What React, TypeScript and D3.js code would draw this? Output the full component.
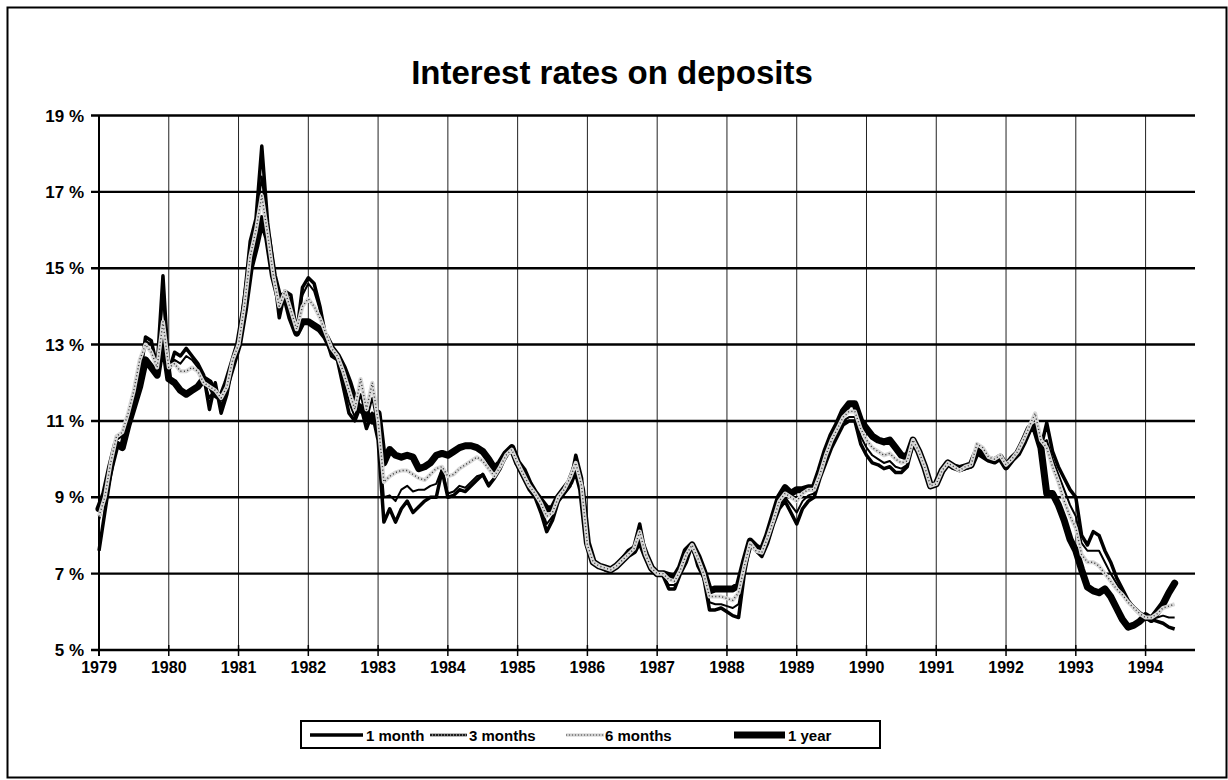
import React from "react";
import * as d3 from "d3";

const START_YEAR = 1979;
const yearLabels = ["1979","1980","1981","1982","1983","1984","1985","1986","1987","1988","1989","1990","1991","1992","1993","1994"];
const yTicks = [5, 7, 9, 11, 13, 15, 17, 19];
const seriesNames = ["1 month", "3 months", "6 months", "1 year"];

// monthly values, Jan 1979 onwards
const oneMonth = [
  7.6, 8.6, 9.6, 10.4, 10.3, 11.0, 11.5, 12.1, 13.2, 13.1, 12.4, 14.8,
  12.3, 12.8, 12.7, 12.9, 12.7, 12.5, 12.2, 11.3, 12.0, 11.2, 11.7, 12.5,
  13.0, 14.2, 15.7, 16.3, 18.2, 16.2, 15.0, 13.7, 14.4, 14.3, 13.3, 14.5,
  14.75, 14.6, 14.0, 13.2, 12.7, 12.6, 11.9, 11.2, 11.0, 11.4, 10.8, 11.2,
  10.5, 8.35, 8.7, 8.35, 8.7, 8.9, 8.6, 8.75, 8.9, 9.0, 9.0, 9.7,
  9.0, 9.05, 9.2, 9.15, 9.3, 9.45, 9.6, 9.3, 9.5, 9.75, 10.1, 10.25,
  9.8, 9.5, 9.2, 9.0, 8.6, 8.1, 8.4, 8.9, 9.1, 9.3, 10.1, 9.5,
  7.7, 7.3, 7.2, 7.1, 7.05, 7.2, 7.4, 7.6, 7.7, 8.3, 7.5, 7.1,
  7.0, 6.95, 6.6, 6.6, 7.0, 7.3, 7.75, 7.2, 6.9, 6.05, 6.05, 6.1,
  6.0, 5.9, 5.85, 7.0, 7.8, 7.6, 7.45, 7.8, 8.3, 8.7, 8.9, 8.6,
  8.3, 8.7, 8.9, 9.0, 9.5, 9.9, 10.3, 10.6, 10.9, 11.0, 11.0, 10.4,
  10.1, 9.9, 9.85, 9.75, 9.8, 9.65, 9.65, 9.8, 10.4, 10.2, 9.8, 9.3,
  9.35, 9.7, 9.9, 9.8, 9.7, 9.75, 9.8, 10.2, 10.1, 10.0, 9.95, 10.05,
  9.8, 10.0, 10.2, 10.5, 10.8, 10.9, 10.3, 10.95, 10.2, 9.8, 9.5, 9.2,
  9.0, 8.0, 7.75, 8.1, 8.0, 7.6, 7.3, 6.9, 6.6, 6.3, 6.1, 5.95,
  5.85, 5.8, 5.75, 5.7, 5.6, 5.55,
];

const threeMonths = [
  8.4, 9.0, 9.8, 10.5, 10.6, 11.1, 11.7, 12.3, 13.1, 13.0, 12.5, 14.2,
  12.5, 12.6, 12.5, 12.7, 12.6, 12.4, 12.1, 11.6, 11.9, 11.4, 11.8, 12.5,
  13.0, 14.1, 15.5, 16.2, 17.4, 16.0, 14.8, 13.9, 14.4, 14.1, 13.4, 14.3,
  14.6, 14.4, 13.9, 13.3, 12.8, 12.7, 12.1, 11.5, 11.1, 11.7, 11.0, 11.6,
  10.8, 9.0, 9.05, 8.9, 9.2, 9.3, 9.15, 9.2, 9.2, 9.3, 9.35, 9.75,
  9.1, 9.15, 9.3, 9.25, 9.4, 9.55, 9.6, 9.35, 9.5, 9.8, 10.1, 10.25,
  9.85, 9.55, 9.25, 9.05, 8.75, 8.3, 8.5, 8.95, 9.15, 9.4, 10.0, 9.4,
  7.7, 7.25, 7.2, 7.1, 7.05, 7.2, 7.35, 7.55, 7.7, 8.2, 7.5, 7.1,
  7.0, 6.95, 6.7, 6.7, 7.05, 7.4, 7.75, 7.3, 7.0, 6.25, 6.2, 6.2,
  6.15, 6.1, 6.2, 7.1, 7.8, 7.6, 7.5, 7.85, 8.35, 8.8, 9.0, 8.8,
  8.6, 8.9, 9.05, 9.1, 9.55, 10.0, 10.4, 10.7, 11.0, 11.1, 11.1, 10.6,
  10.3, 10.1, 10.0, 9.9, 9.95, 9.8, 9.75, 9.85, 10.45, 10.2, 9.8, 9.3,
  9.35, 9.7, 9.9, 9.8, 9.7, 9.8, 9.85, 10.3, 10.2, 10.0, 9.95, 10.05,
  9.8, 10.0, 10.2, 10.5, 10.8, 10.9, 10.4, 10.5, 10.0, 9.6, 9.2, 8.8,
  8.5, 7.8, 7.6, 7.6, 7.6, 7.3, 7.0, 6.75, 6.5, 6.3, 6.15, 6.0,
  5.9, 5.85, 5.85, 5.9, 5.85, 5.85,
];

const sixMonths = [
  8.5, 9.0, 9.9, 10.6, 10.7, 11.2, 11.8, 12.6, 13.0, 12.8, 12.4, 13.6,
  12.4, 12.5, 12.3, 12.3, 12.4, 12.3, 12.0, 11.9, 11.8, 11.6, 11.9, 12.6,
  13.0, 14.0, 15.3, 16.0, 16.9, 15.9, 14.8, 14.0, 14.4, 13.9, 13.4, 14.0,
  14.2, 14.0, 13.7, 13.3, 12.9, 12.7, 12.3, 11.8, 11.3, 12.1, 11.3, 12.0,
  11.0, 9.4, 9.55, 9.65, 9.7, 9.7, 9.6, 9.5, 9.45, 9.6, 9.75, 9.8,
  9.55, 9.6, 9.75, 9.85, 9.95, 10.05, 9.95, 9.75, 9.55, 9.8, 10.1, 10.25,
  9.9, 9.6, 9.3, 9.1, 8.85, 8.5, 8.6, 9.0, 9.2, 9.5, 9.9, 9.3,
  7.75, 7.3, 7.2, 7.15, 7.1, 7.2, 7.35, 7.5, 7.65, 8.1, 7.5, 7.15,
  7.0, 7.0, 6.85, 6.8, 7.1, 7.5, 7.75, 7.4, 7.0, 6.4, 6.4, 6.4,
  6.35, 6.3, 6.5, 7.2, 7.8, 7.6, 7.55, 7.95, 8.4, 8.9, 9.1, 9.0,
  8.9, 9.1, 9.2, 9.2, 9.6, 10.1, 10.5, 10.8, 11.1, 11.25, 11.25, 10.8,
  10.5, 10.3, 10.2, 10.1, 10.15, 10.0, 9.9, 9.95, 10.5, 10.2, 9.8, 9.3,
  9.35, 9.7, 9.9, 9.8, 9.7, 9.8, 9.85, 10.4, 10.3, 10.05, 10.0, 10.1,
  9.85, 10.0, 10.2, 10.5, 10.85, 11.2, 10.5, 10.3, 9.8, 9.4, 8.9, 8.5,
  8.2, 7.5, 7.3, 7.3, 7.2, 7.0, 6.8, 6.6, 6.45, 6.25, 6.1, 5.95,
  5.85, 5.85, 5.95, 6.1, 6.15, 6.2,
];

const oneYear = [
  8.7, 9.1, 9.8, 10.4, 10.3, 10.9, 11.4, 11.9, 12.6, 12.4, 12.2, 13.2,
  12.1, 12.0, 11.8, 11.7, 11.8, 11.9, 12.1, 12.0, 11.7, 11.6, 12.0, 12.5,
  13.0, 13.9, 15.0, 15.6, 16.3, 15.8, 14.8, 14.2, 14.3, 13.7, 13.3, 13.6,
  13.6, 13.5, 13.4, 13.2, 12.9, 12.7, 12.4, 12.0, 11.5, 11.3, 11.2, 11.0,
  11.2, 9.9, 10.25, 10.1, 10.05, 10.1, 10.05, 9.75, 9.8, 9.9, 10.1, 10.15,
  10.1, 10.2, 10.3, 10.35, 10.35, 10.3, 10.2, 10.0, 9.75, 9.9, 10.15, 10.3,
  9.9, 9.7, 9.35, 9.1, 8.9, 8.7, 8.7, 9.0, 9.2, 9.4, 9.8, 9.2,
  7.8, 7.3, 7.2, 7.15, 7.1, 7.2, 7.35, 7.5, 7.6, 7.9, 7.5, 7.15,
  7.0, 7.0, 6.95, 6.9, 7.15, 7.6, 7.75, 7.45, 7.05, 6.55, 6.6, 6.6,
  6.6, 6.6, 6.7, 7.3, 7.85, 7.7, 7.6, 8.0, 8.5, 9.0, 9.25, 9.1,
  9.2, 9.2, 9.25, 9.25, 9.7, 10.2, 10.6, 10.9, 11.25, 11.45, 11.45, 11.0,
  10.8, 10.6, 10.5, 10.45, 10.5, 10.3, 10.1, 10.05, 10.5, 10.2, 9.8, 9.3,
  9.35, 9.7, 9.9, 9.8, 9.75, 9.8, 9.85, 10.2, 10.1, 10.0, 9.95, 10.05,
  9.8, 10.0, 10.15, 10.45, 10.8, 10.8, 10.3, 9.1, 9.1, 8.8, 8.4, 7.9,
  7.6, 7.1, 6.65, 6.55, 6.5, 6.6, 6.4, 6.1, 5.8, 5.6, 5.65, 5.75,
  5.9, 5.8, 6.0, 6.2, 6.5, 6.75,
];

const FONT = "'Liberation Sans', Arial, Helvetica, sans-serif";

export default function App() {
  const W = 1228, H = 780;
  const left = 99, right = 1195, top = 115.5, bottom = 650;
  const x = d3.scaleLinear().domain([0, 188.5]).range([left, right]);
  const y = d3.scaleLinear().domain([5, 19]).range([bottom, top]);
  const line = d3.line<number>().x((_, i) => x(i)).y((d) => y(d));

  const yearPos = (i: number) => x(i * 12);

  const legendItems = [
    { name: seriesNames[0], x0: 310, x1: 363, tx: 366 },
    { name: seriesNames[1], x0: 430, x1: 467, tx: 469 },
    { name: seriesNames[2], x0: 566, x1: 604, tx: 605 },
    { name: seriesNames[3], x0: 734, x1: 785, tx: 788 },
  ];

  const drawSample = (idx: number, x0: number, x1: number, yy: number) => {
    if (idx === 0) return <line x1={x0} x2={x1} y1={yy} y2={yy} stroke="#000" strokeWidth={3.5} />;
    if (idx === 1)
      return (
        <g>
          <line x1={x0} x2={x1} y1={yy} y2={yy} stroke="#777" strokeWidth={3} />
          <line x1={x0} x2={x1} y1={yy} y2={yy} stroke="#000" strokeWidth={1.4} strokeDasharray="2,1" />
        </g>
      );
    if (idx === 2)
      return (
        <g>
          <line x1={x0} x2={x1} y1={yy} y2={yy} stroke="#ccc" strokeWidth={3} />
          <line x1={x0} x2={x1} y1={yy} y2={yy} stroke="#444" strokeWidth={1.2} strokeDasharray="1,2" />
        </g>
      );
    return <line x1={x0} x2={x1} y1={yy} y2={yy} stroke="#000" strokeWidth={7} />;
  };

  return (
    <svg width={W} height={H} style={{ position: "absolute", left: 0, top: 0, background: "#fff" }} fontFamily={FONT}>
      <rect x={0} y={0} width={W} height={H} fill="#fff" />
      <rect x={7.5} y={7.5} width={1219} height={770} fill="none" stroke="#000" strokeWidth={2} />
      <text x={612} y={84} textAnchor="middle" fontSize={33} fontWeight="bold" fill="#000">
        Interest rates on deposits
      </text>

      {/* vertical grid */}
      {yearLabels.map((_, i) =>
        i === 0 ? null : (
          <line key={"vg" + i} x1={yearPos(i)} x2={yearPos(i)} y1={top} y2={bottom} stroke="#222" strokeWidth={1} />
        )
      )}
      {/* horizontal grid */}
      {yTicks.map((t) => (
        <line key={"hg" + t} x1={left - 8} x2={right} y1={y(t)} y2={y(t)} stroke="#000" strokeWidth={2.4} />
      ))}
      <line x1={left} x2={left} y1={top} y2={bottom + 6} stroke="#000" strokeWidth={2} />
      {yearLabels.map((_, i) => (
        <line key={"xt" + i} x1={yearPos(i)} x2={yearPos(i)} y1={bottom - 5} y2={bottom + 6} stroke="#000" strokeWidth={1.5} />
      ))}
      {yTicks.map((t) => (
        <text key={"yl" + t} x={84} y={y(t) + 6} textAnchor="end" fontSize={17} fontWeight="bold" fill="#000">
          {t} %
        </text>
      ))}
      {yearLabels.map((lab, i) => (
        <text key={"xl" + i} x={yearPos(i)} y={673} textAnchor="middle" fontSize={16} fontWeight="bold" fill="#000">
          {lab}
        </text>
      ))}

      {/* series */}
      <path d={line(oneYear) || ""} fill="none" stroke="#000" strokeWidth={7} strokeLinejoin="round" strokeLinecap="round" />
      <path d={line(oneMonth) || ""} fill="none" stroke="#000" strokeWidth={3.5} strokeLinejoin="round" />
      <path d={line(threeMonths) || ""} fill="none" stroke="#000" strokeWidth={2} strokeLinejoin="round" />
      <path d={line(sixMonths) || ""} fill="none" stroke="#d8d8d8" strokeWidth={4} strokeLinejoin="round" />
      <path d={line(sixMonths) || ""} fill="none" stroke="#333" strokeWidth={1.4} strokeDasharray="1,2.5" strokeLinejoin="round" />

      {/* legend */}
      <rect x={301} y={721} width={579} height={27} fill="#fff" stroke="#000" strokeWidth={2} />
      {legendItems.map((it, i) => (
        <g key={"lg" + i}>
          {drawSample(i, it.x0, it.x1, 735)}
          <text x={it.tx} y={740.5} fontSize={15} fontWeight="bold" fill="#000">
            {it.name}
          </text>
        </g>
      ))}
    </svg>
  );
}
